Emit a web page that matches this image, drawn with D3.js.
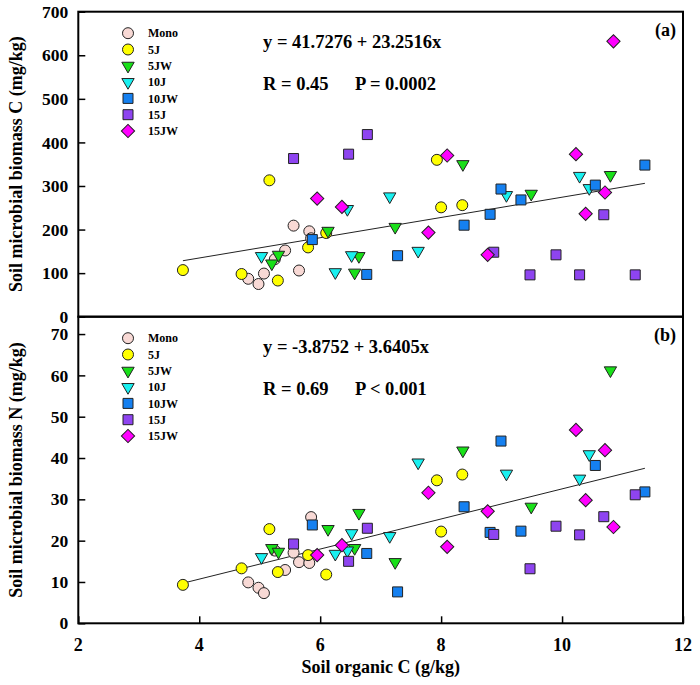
<!DOCTYPE html>
<html lang="en">
<head>
  <meta charset="UTF-8" />
  <title>Soil microbial biomass vs soil organic C</title>
  <script src="https://d3js.org/d3.v7.min.js"></script>
  <style>
    body {
      margin: 0;
      background: #fff;
    }
    svg text {
      font-family: "Liberation Serif", "Times New Roman", serif;
      font-weight: bold;
    }
    .frame {
      fill: none;
      stroke: #000;
      stroke-width: 2px;
    }
  </style>
</head>
<body>
  <svg width="700" height="685"></svg>

  <script>
    const groups = ["Mono", "5J", "5JW", "10J", "10JW", "15J", "15JW"];
    const colors = ["#f8d9d5", "#ffff00", "#19e019", "#19f0f0", "#1580f0", "#8e44f0", "#ff00ff"];
    const shapes = ["circle", "circle", "tridown", "tridown", "square", "square", "diamond"];

    // soil organic C (g/kg), one array per treatment
    const soc = [
      [4.81, 4.98, 5.07, 5.25, 5.42, 5.56, 5.65, 5.82, 5.85],
      [3.73, 4.70, 5.16, 5.30, 5.80, 6.10, 7.93, 8.00, 8.35],
      [5.20, 5.31, 6.13, 6.57, 6.64, 7.24, 8.36, 9.49, 10.80],
      [5.03, 6.25, 6.45, 6.52, 7.15, 7.62, 9.08, 10.29, 10.45],
      [5.87, 6.77, 7.28, 8.38, 8.81, 8.99, 9.32, 10.55, 11.37],
      [5.56, 6.47, 6.78, 8.87, 9.47, 9.90, 10.29, 10.69, 11.21],
      [5.95, 6.36, 7.79, 8.10, 8.77, 10.23, 10.39, 10.71, 10.85]
    ];
    // microbial biomass C (mg/kg)
    const mbc = [
      [87, 75, 99, 132, 152, 209, 106, 196, 180],
      [107, 98, 313, 83, 159, 192, 360, 251, 256],
      [122, 142, 197, 101, 139, 206, 350, 282, 325],
      [139, 102, 247, 141, 276, 151, 279, 323, 295],
      [177, 97, 140, 210, 235, 293, 268, 302, 348],
      [363, 373, 418, 148, 96, 142, 96, 234, 96],
      [271, 252, 193, 370, 142, 373, 236, 285, 632]
    ];
    // microbial biomass N (mg/kg)
    const mbn = [
      [9.9, 8.6, 7.3, 17.6, 12.9, 17.1, 14.8, 14.6, 25.7],
      [9.3, 13.3, 22.8, 12.4, 16.5, 11.8, 34.6, 22.2, 36.0],
      [18.2, 17.3, 22.8, 18.2, 26.7, 14.8, 41.8, 28.2, 61.2],
      [16.0, 16.8, 17.6, 21.8, 21.1, 38.9, 36.2, 35.0, 40.9],
      [23.8, 16.9, 7.6, 28.2, 22.0, 44.1, 22.3, 38.2, 31.8],
      [19.2, 15.0, 23.0, 21.5, 13.2, 23.5, 21.4, 25.8, 31.1],
      [16.5, 18.9, 31.6, 18.5, 27.1, 46.8, 29.8, 41.9, 23.3]
    ];

    const fitC = { a: 41.7276, b: 23.2516 };
    const fitN = { a: -3.8752, b: 3.6405 };

    const xTicks = [2, 4, 6, 8, 10, 12];
    const cTicks = [0, 100, 200, 300, 400, 500, 600, 700];
    const nTicks = [0, 10, 20, 30, 40, 50, 60, 70];

    const svg = d3.select("svg");
    const left = 78.3, right = 683;

    const x = d3.scaleLinear().domain([2, 12]).range([left, right]);
    const yC = d3.scaleLinear().domain([0, 700]).range([316.7, 11.7]);
    const yN = d3.scaleLinear().domain([0, 74.2]).range([623.3, 316.7]);

    function symbolPath(shape) {
      if (shape === "circle") return d3.symbol(d3.symbolCircle, 95)();
      if (shape === "square") return d3.symbol(d3.symbolSquare, 100)();
      if (shape === "diamond") return d3.symbol(d3.symbolSquare, 88)();
      return d3.symbol(d3.symbolTriangle, 66)();
    }
    function symbolRotate(shape) {
      if (shape === "tridown") return " rotate(180)";
      if (shape === "diamond") return " rotate(45)";
      return "";
    }

    function drawPanel(y, vals, fit, ticks, eqText, pText, tag, title, top) {
      const g = svg.append("g");
      const [y0, y1] = y.range();

      // left axis with inward ticks
      const ax = g.append("g")
        .attr("transform", `translate(${left},0)`)
        .call(d3.axisRight(y).tickValues(ticks).tickSize(7).tickFormat(""));
      ax.select(".domain").remove();
      ax.selectAll("line").attr("stroke", "#000").attr("stroke-width", 1.5);

      g.selectAll(".ylab")
        .data(ticks)
        .join("text")
        .attr("x", left - 10)
        .attr("y", d => y(d))
        .attr("dy", "0.35em")
        .attr("text-anchor", "end")
        .attr("font-size", 17.5)
        .text(d => d);

      // regression line over the data range
      const xr = d3.extent(soc.flat());
      g.append("line")
        .attr("x1", x(xr[0])).attr("y1", y(fit.a + fit.b * xr[0]))
        .attr("x2", x(xr[1])).attr("y2", y(fit.a + fit.b * xr[1]))
        .attr("stroke", "#222").attr("stroke-width", 1);

      // points
      groups.forEach((grp, i) => {
        g.append("g").selectAll("path")
          .data(soc[i].map((s, j) => ({ s, v: vals[i][j] })))
          .join("path")
          .attr("d", symbolPath(shapes[i]))
          .attr("transform", d => `translate(${x(d.s)},${y(d.v)})${symbolRotate(shapes[i])}`)
          .attr("fill", colors[i])
          .attr("stroke", "#222")
          .attr("stroke-width", 1);
      });

      // legend
      const lg = g.append("g").attr("transform", `translate(128,${top + 21.5})`);
      groups.forEach((grp, i) => {
        const row = lg.append("g").attr("transform", `translate(0,${i * 16.3})`);
        row.append("path")
          .attr("d", symbolPath(shapes[i]))
          .attr("transform", `translate(0,0)${symbolRotate(shapes[i])}`)
          .attr("fill", colors[i])
          .attr("stroke", "#222")
          .attr("stroke-width", 1);
        row.append("text")
          .attr("x", 20)
          .attr("dy", "0.35em")
          .attr("font-size", 12)
          .text(grp);
      });

      g.append("text")
        .attr("x", 263).attr("y", top + 36)
        .attr("font-size", 18.5)
        .text(eqText);
      g.append("text")
        .attr("x", 263).attr("y", top + 78)
        .attr("font-size", 18.5)
        .text(`R = ${pText[0]}`);
      g.append("text")
        .attr("x", 355).attr("y", top + 78)
        .attr("font-size", 18.5)
        .text(pText[1]);

      g.append("text")
        .attr("x", 676).attr("y", top + 18)
        .attr("dy", "0.35em")
        .attr("text-anchor", "end")
        .attr("font-size", 18)
        .text(tag);

      g.append("text")
        .attr("transform", `translate(22,${(y0 + y1) / 2}) rotate(-90)`)
        .attr("text-anchor", "middle")
        .attr("font-size", 18)
        .text(title);

      g.append("rect")
        .attr("class", "frame")
        .attr("x", left).attr("y", y1)
        .attr("width", right - left).attr("height", y0 - y1);
    }

    drawPanel(yC, mbc, fitC, cTicks,
      `y = ${fitC.a} + ${fitC.b}x`, ["0.45", "P = 0.0002"], "(a)",
      "Soil microbial biomass C  (mg/kg)", 11.7);
    drawPanel(yN, mbn, fitN, nTicks,
      `y = ${fitN.a} + ${fitN.b}x`, ["0.69", "P < 0.001"], "(b)",
      "Soil microbial biomass N (mg/kg)", 316.7);

    // shared x axis with inward ticks
    const xa = svg.append("g")
      .attr("transform", `translate(0,${yN(0)})`)
      .call(d3.axisTop(x).tickValues(xTicks).tickSize(7).tickFormat(""));
    xa.select(".domain").remove();
    xa.selectAll("line").attr("stroke", "#000").attr("stroke-width", 1.5);

    svg.selectAll(".xlab")
      .data(xTicks)
      .join("text")
      .attr("x", d => x(d))
      .attr("y", 651)
      .attr("text-anchor", "middle")
      .attr("font-size", 18)
      .text(d => d);

    svg.append("text")
      .attr("x", (left + right) / 2)
      .attr("y", 673)
      .attr("text-anchor", "middle")
      .attr("font-size", 18)
      .text("Soil organic C (g/kg)");
  </script>
</body>
</html>
